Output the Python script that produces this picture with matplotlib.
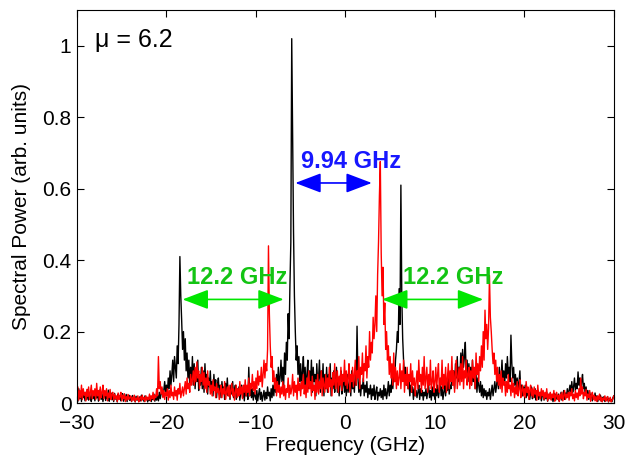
"""Spectral power of the two polarisation modes, mu = 6.2."""
import matplotlib

matplotlib.use("Agg")
import matplotlib.pyplot as plt  # noqa: E402
import numpy as np  # noqa: E402
from matplotlib.ticker import FuncFormatter  # noqa: E402

plt.rcParams["font.family"] = ["Liberation Sans", "DejaVu Sans"]

# frequency grid, -30 .. 30 GHz in 0.1 GHz steps (601 samples); one row = 1 GHz
freq_start, freq_step = -30.0, 0.1

black_power = [
    0.03, 0.005, 0.04, 0.012, 0.028, 0.004, 0.035, 0.015, 0.022, 0.006,   # -30
    0.03, 0.01, 0.038, 0.008, 0.025, 0.016, 0.004, 0.032, 0.012, 0.027,  # -29
    0.006, 0.035, 0.014, 0.03, 0.005, 0.022, 0.038, 0.01, 0.026, 0.004,  # -28
    0.02, 0.031, 0.007, 0.024, 0.012, 0.036, 0.005, 0.019, 0.028, 0.009,  # -27
    0.022, 0.004, 0.027, 0.011, 0.018, 0.003, 0.025, 0.014, 0.02, 0.006,  # -26
    0.017, 0.026, 0.005, 0.02, 0.009, 0.024, 0.004, 0.015, 0.022, 0.007,  # -25
    0.018, 0.004, 0.021, 0.01, 0.016, 0.003, 0.019, 0.008, 0.014, 0.005,  # -24
    0.017, 0.006, 0.022, 0.009, 0.013, 0.004, 0.02, 0.011, 0.016, 0.003,  # -23
    0.014, 0.007, 0.019, 0.004, 0.016, 0.01, 0.025, 0.005, 0.018, 0.008,  # -22
    0.022, 0.006, 0.03, 0.012, 0.025, 0.04, 0.018, 0.035, 0.06, 0.03,     # -21
    0.05, 0.025, 0.07, 0.04, 0.09, 0.05, 0.08, 0.12, 0.06, 0.13,          # -20
    0.1, 0.07, 0.16, 0.11, 0.22, 0.41, 0.3, 0.23, 0.15, 0.2,              # -19
    0.12, 0.18, 0.09, 0.14, 0.07, 0.12, 0.05, 0.1, 0.06, 0.13,            # -18
    0.05, 0.11, 0.04, 0.09, 0.06, 0.12, 0.035, 0.08, 0.05, 0.1,           # -17
    0.04, 0.09, 0.03, 0.11, 0.05, 0.08, 0.025, 0.07, 0.045, 0.09,         # -16
    0.03, 0.06, 0.02, 0.08, 0.04, 0.065, 0.015, 0.05, 0.07, 0.025,        # -15
    0.05, 0.015, 0.06, 0.03, 0.045, 0.01, 0.055, 0.025, 0.07, 0.02,       # -14
    0.04, 0.01, 0.05, 0.025, 0.06, 0.015, 0.035, 0.05, 0.01, 0.04,        # -13
    0.02, 0.045, 0.008, 0.03, 0.05, 0.015, 0.035, 0.006, 0.04, 0.02,      # -12
    0.03, 0.01, 0.1, 0.02, 0.05, 0.015, 0.04, 0.008, 0.03, 0.02,          # -11
    0.01, 0.035, 0.006, 0.025, 0.04, 0.01, 0.03, 0.005, 0.02, 0.035,      # -10
    0.008, 0.03, 0.012, 0.045, 0.02, 0.03, 0.006, 0.04, 0.015, 0.05,      # -9
    0.02, 0.06, 0.03, 0.08, 0.04, 0.1, 0.05, 0.07, 0.12, 0.06,            # -8
    0.1, 0.05, 0.14, 0.08, 0.17, 0.12, 0.25, 0.18, 0.33, 0.45,            # -7
    1.02, 0.74, 0.48, 0.3, 0.2, 0.12, 0.16, 0.08, 0.13, 0.06,             # -6
    0.11, 0.04, 0.09, 0.13, 0.05, 0.1, 0.03, 0.08, 0.12, 0.04,            # -5
    0.09, 0.05, 0.12, 0.03, 0.1, 0.06, 0.08, 0.02, 0.11, 0.05,            # -4
    0.07, 0.12, 0.03, 0.09, 0.05, 0.11, 0.02, 0.08, 0.04, 0.1,            # -3
    0.03, 0.08, 0.05, 0.11, 0.02, 0.07, 0.04, 0.09, 0.03, 0.06,           # -2
    0.1, 0.03, 0.07, 0.02, 0.06, 0.09, 0.025, 0.05, 0.08, 0.03,           # -1
    0.06, 0.02, 0.08, 0.03, 0.05, 0.07, 0.02, 0.09, 0.04, 0.06,           # 0
    0.03, 0.08, 0.05, 0.215, 0.07, 0.03, 0.06, 0.02, 0.05, 0.04,          # 1
    0.07, 0.02, 0.05, 0.03, 0.06, 0.015, 0.04, 0.025, 0.05, 0.01,         # 2
    0.04, 0.02, 0.05, 0.01, 0.03, 0.045, 0.008, 0.03, 0.02, 0.04,         # 3
    0.015, 0.035, 0.01, 0.05, 0.02, 0.04, 0.012, 0.03, 0.06, 0.02,        # 4
    0.05, 0.03, 0.07, 0.04, 0.09, 0.06, 0.12, 0.15, 0.2, 0.17,            # 5
    0.32, 0.22, 0.61, 0.3, 0.18, 0.12, 0.08, 0.1, 0.05, 0.07,             # 6
    0.04, 0.06, 0.02, 0.05, 0.03, 0.045, 0.01, 0.04, 0.02, 0.035,         # 7
    0.015, 0.03, 0.05, 0.01, 0.04, 0.02, 0.035, 0.008, 0.03, 0.02,        # 8
    0.04, 0.012, 0.03, 0.05, 0.015, 0.035, 0.008, 0.045, 0.02, 0.03,      # 9
    0.01, 0.04, 0.02, 0.05, 0.015, 0.035, 0.06, 0.02, 0.045, 0.01,        # 10
    0.03, 0.05, 0.02, 0.06, 0.035, 0.07, 0.025, 0.05, 0.04, 0.08,         # 11
    0.05, 0.09, 0.04, 0.11, 0.07, 0.13, 0.06, 0.1, 0.08, 0.14,            # 12
    0.09, 0.15, 0.1, 0.13, 0.17, 0.08, 0.12, 0.06, 0.11, 0.07,            # 13
    0.1, 0.05, 0.12, 0.06, 0.09, 0.04, 0.08, 0.03, 0.07, 0.05,            # 14
    0.03, 0.06, 0.02, 0.05, 0.015, 0.04, 0.02, 0.035, 0.01, 0.03,         # 15
    0.02, 0.04, 0.01, 0.03, 0.05, 0.02, 0.04, 0.06, 0.03, 0.05,           # 16
    0.08, 0.04, 0.1, 0.05, 0.07, 0.12, 0.06, 0.09, 0.05, 0.11,            # 17
    0.07, 0.13, 0.08, 0.1, 0.06, 0.19, 0.11, 0.07, 0.1, 0.05,             # 18
    0.08, 0.04, 0.07, 0.03, 0.06, 0.09, 0.03, 0.05, 0.02, 0.045,          # 19
    0.03, 0.05, 0.015, 0.04, 0.02, 0.035, 0.01, 0.03, 0.045, 0.012,       # 20
    0.03, 0.015, 0.04, 0.008, 0.025, 0.035, 0.01, 0.02, 0.03, 0.006,      # 21
    0.02, 0.03, 0.008, 0.025, 0.012, 0.03, 0.005, 0.02, 0.015, 0.028,     # 22
    0.01, 0.022, 0.004, 0.018, 0.026, 0.008, 0.02, 0.012, 0.025, 0.005,   # 23
    0.015, 0.03, 0.008, 0.022, 0.035, 0.01, 0.028, 0.015, 0.04, 0.02,     # 24
    0.035, 0.05, 0.025, 0.06, 0.03, 0.045, 0.07, 0.035, 0.055, 0.04,      # 25
    0.087, 0.05, 0.07, 0.03, 0.06, 0.08, 0.04, 0.055, 0.025, 0.045,       # 26
    0.02, 0.035, 0.01, 0.03, 0.015, 0.025, 0.006, 0.02, 0.012, 0.028,     # 27
    0.008, 0.02, 0.004, 0.015, 0.01, 0.022, 0.005, 0.016, 0.008, 0.018,   # 28
    0.004, 0.014, 0.008, 0.018, 0.003, 0.012, 0.006, 0.01, 0.004, 0.015,  # 29
    0.02,                                                                 # 30
]

red_power = [
    0.02, 0.045, 0.008, 0.035, 0.015, 0.05, 0.01, 0.04, 0.022, 0.03,      # -30
    0.006, 0.038, 0.018, 0.045, 0.01, 0.03, 0.05, 0.012, 0.035, 0.02,     # -29
    0.04, 0.01, 0.055, 0.02, 0.035, 0.008, 0.045, 0.015, 0.03, 0.05,      # -28
    0.012, 0.035, 0.02, 0.04, 0.006, 0.028, 0.015, 0.038, 0.01, 0.025,    # -27
    0.03, 0.008, 0.025, 0.012, 0.02, 0.004, 0.028, 0.01, 0.018, 0.03,     # -26
    0.006, 0.022, 0.012, 0.026, 0.004, 0.018, 0.008, 0.024, 0.01, 0.015,  # -25
    0.02, 0.005, 0.016, 0.008, 0.022, 0.004, 0.014, 0.01, 0.02, 0.003,    # -24
    0.012, 0.018, 0.006, 0.022, 0.01, 0.015, 0.004, 0.02, 0.008, 0.016,   # -23
    0.01, 0.025, 0.006, 0.02, 0.012, 0.03, 0.008, 0.022, 0.015, 0.04,     # -22
    0.02, 0.13, 0.04, 0.06, 0.025, 0.045, 0.015, 0.035, 0.01, 0.03,       # -21
    0.02, 0.04, 0.008, 0.035, 0.015, 0.05, 0.02, 0.03, 0.01, 0.045,       # -20
    0.02, 0.035, 0.008, 0.04, 0.025, 0.055, 0.015, 0.03, 0.045, 0.02,     # -19
    0.04, 0.06, 0.025, 0.07, 0.04, 0.055, 0.03, 0.08, 0.05, 0.065,        # -18
    0.09, 0.05, 0.1, 0.06, 0.115, 0.07, 0.09, 0.04, 0.08, 0.06,           # -17
    0.1, 0.05, 0.085, 0.04, 0.07, 0.03, 0.09, 0.05, 0.06, 0.025,          # -16
    0.05, 0.02, 0.065, 0.035, 0.045, 0.015, 0.055, 0.03, 0.04, 0.01,      # -15
    0.035, 0.05, 0.015, 0.04, 0.025, 0.06, 0.01, 0.03, 0.045, 0.02,       # -14
    0.05, 0.015, 0.035, 0.055, 0.02, 0.04, 0.008, 0.03, 0.05, 0.015,      # -13
    0.04, 0.02, 0.06, 0.025, 0.045, 0.012, 0.05, 0.03, 0.065, 0.02,       # -12
    0.05, 0.03, 0.07, 0.02, 0.055, 0.04, 0.08, 0.035, 0.06, 0.025,        # -11
    0.07, 0.04, 0.09, 0.05, 0.075, 0.06, 0.1, 0.045, 0.08, 0.12,          # -10
    0.07, 0.11, 0.09, 0.15, 0.44, 0.25, 0.16, 0.1, 0.13, 0.06,            # -9
    0.09, 0.04, 0.07, 0.02, 0.06, 0.03, 0.05, 0.015, 0.045, 0.025,        # -8
    0.06, 0.02, 0.05, 0.01, 0.04, 0.03, 0.07, 0.015, 0.05, 0.025,         # -7
    0.04, 0.08, 0.02, 0.06, 0.03, 0.05, 0.01, 0.07, 0.035, 0.055,         # -6
    0.02, 0.06, 0.04, 0.08, 0.025, 0.05, 0.015, 0.07, 0.03, 0.09,         # -5
    0.04, 0.06, 0.02, 0.075, 0.035, 0.05, 0.01, 0.065, 0.03, 0.08,        # -4
    0.025, 0.06, 0.04, 0.09, 0.02, 0.07, 0.05, 0.03, 0.08, 0.04,          # -3
    0.07, 0.03, 0.1, 0.045, 0.065, 0.02, 0.085, 0.05, 0.11, 0.04,         # -2
    0.06, 0.09, 0.03, 0.075, 0.05, 0.1, 0.035, 0.08, 0.06, 0.12,          # -1
    0.05, 0.09, 0.04, 0.07, 0.11, 0.03, 0.08, 0.06, 0.1, 0.045,           # 0
    0.08, 0.12, 0.05, 0.09, 0.07, 0.13, 0.04, 0.1, 0.08, 0.14,            # 1
    0.06, 0.11, 0.09, 0.16, 0.07, 0.13, 0.1, 0.2, 0.12, 0.17,             # 2
    0.14, 0.24, 0.18, 0.22, 0.3, 0.2, 0.36, 0.45, 0.58, 0.676,            # 3
    0.42, 0.3, 0.38, 0.22, 0.28, 0.15, 0.2, 0.12, 0.16, 0.08,             # 4
    0.13, 0.07, 0.11, 0.05, 0.14, 0.06, 0.1, 0.04, 0.09, 0.05,            # 5
    0.07, 0.11, 0.04, 0.09, 0.06, 0.12, 0.03, 0.08, 0.05, 0.1,            # 6
    0.04, 0.08, 0.06, 0.11, 0.03, 0.09, 0.05, 0.07, 0.02, 0.06,           # 7
    0.09, 0.04, 0.12, 0.06, 0.08, 0.03, 0.1, 0.05, 0.13, 0.04,            # 8
    0.07, 0.1, 0.03, 0.08, 0.05, 0.12, 0.04, 0.06, 0.09, 0.03,            # 9
    0.06, 0.1, 0.04, 0.08, 0.11, 0.03, 0.07, 0.05, 0.12, 0.04,            # 10
    0.08, 0.05, 0.1, 0.03, 0.07, 0.11, 0.04, 0.09, 0.06, 0.13,            # 11
    0.05, 0.09, 0.03, 0.08, 0.12, 0.04, 0.07, 0.1, 0.05, 0.11,            # 12
    0.06, 0.13, 0.04, 0.09, 0.07, 0.12, 0.05, 0.08, 0.1, 0.04,            # 13
    0.09, 0.05, 0.12, 0.07, 0.1, 0.04, 0.14, 0.08, 0.11, 0.06,            # 14
    0.13, 0.09, 0.16, 0.1, 0.2, 0.12, 0.26, 0.18, 0.22, 0.15,             # 15
    0.21, 0.357, 0.24, 0.2, 0.15, 0.11, 0.14, 0.08, 0.12, 0.06,           # 16
    0.1, 0.05, 0.08, 0.04, 0.09, 0.03, 0.07, 0.05, 0.06, 0.02,            # 17
    0.06, 0.03, 0.08, 0.04, 0.05, 0.02, 0.07, 0.03, 0.055, 0.015,         # 18
    0.045, 0.025, 0.06, 0.02, 0.04, 0.065, 0.015, 0.035, 0.05, 0.02,      # 19
    0.04, 0.015, 0.06, 0.03, 0.045, 0.01, 0.035, 0.05, 0.02, 0.04,        # 20
    0.015, 0.045, 0.025, 0.035, 0.008, 0.05, 0.02, 0.03, 0.012, 0.04,     # 21
    0.02, 0.035, 0.01, 0.03, 0.015, 0.04, 0.006, 0.025, 0.012, 0.03,      # 22
    0.008, 0.025, 0.015, 0.035, 0.005, 0.02, 0.03, 0.01, 0.022, 0.004,    # 23
    0.025, 0.012, 0.03, 0.006, 0.02, 0.035, 0.01, 0.025, 0.015, 0.03,     # 24
    0.008, 0.03, 0.02, 0.04, 0.012, 0.025, 0.006, 0.035, 0.015, 0.028,    # 25
    0.01, 0.04, 0.02, 0.07, 0.025, 0.045, 0.012, 0.03, 0.02, 0.038,       # 26
    0.008, 0.025, 0.015, 0.035, 0.005, 0.02, 0.03, 0.01, 0.022, 0.006,    # 27
    0.018, 0.004, 0.02, 0.01, 0.025, 0.006, 0.016, 0.003, 0.014, 0.009,   # 28
    0.02, 0.005, 0.012, 0.018, 0.004, 0.01, 0.016, 0.003, 0.008, 0.012,   # 29
    0.02,                                                                 # 30
]
assert len(black_power) == len(red_power) == 601

# spacing annotations: (start GHz, end GHz, level, label, label x, label y)
green_spans = [(-18.2, -6.9, 0.29, "12.2 GHz", -12.1, 0.35),
               (4.1, 15.4, 0.29, "12.2 GHz", 12.0, 0.35)]
blue_span = (-5.6, 2.95, 0.616, "9.94 GHz", 0.6, 0.676)

freq = freq_start + freq_step * np.arange(len(black_power))

fig = plt.figure(figsize=(6.27, 4.59), dpi=100)
ax = fig.add_axes([0.1228, 0.122, 0.8562, 0.856])
ax.plot(freq, black_power, color="black", lw=1.0)
ax.plot(freq, red_power, color="red", lw=1.0)

ax.set_xlim(-30, 30)
ax.set_ylim(0, 1.1)
ax.set_xticks(np.arange(-30, 31, 10))
ax.set_yticks(np.arange(0, 1.01, 0.2))
ax.yaxis.set_major_formatter(FuncFormatter(lambda v, _: f"{v:g}"))
ax.tick_params(direction="in", top=True, right=True, length=5, labelsize=15)
ax.tick_params(axis="x", pad=8)
ax.tick_params(axis="y", pad=4)
ax.set_xlabel("Frequency (GHz)", fontsize=15, labelpad=2)
ax.set_ylabel("Spectral Power (arb. units)", fontsize=15, labelpad=8)

ax.text(-28.0, 1.017, "\u03bc = 6.2", fontsize=18, ha="left", va="center")


def span_arrow(x0, x1, y, color):
    ax.annotate("", xy=(x1, y), xytext=(x0, y),
                arrowprops=dict(arrowstyle="<|-|>,head_length=1.0,head_width=0.38",
                                color=color, lw=1.2, mutation_scale=16,
                                shrinkA=0, shrinkB=0))


for x0, x1, y, label, tx, ty in green_spans:
    span_arrow(x0, x1, y, "#00e600")
    ax.text(tx, ty, label, color="#13c413", fontsize=17, fontweight="bold",
            ha="center", va="center")

x0, x1, y, label, tx, ty = blue_span
span_arrow(x0, x1, y, "#0000ff")
ax.text(tx, ty, label, color="#1717ff", fontsize=17, fontweight="bold",
        ha="center", va="center")

fig.savefig("out.png", dpi=100)
